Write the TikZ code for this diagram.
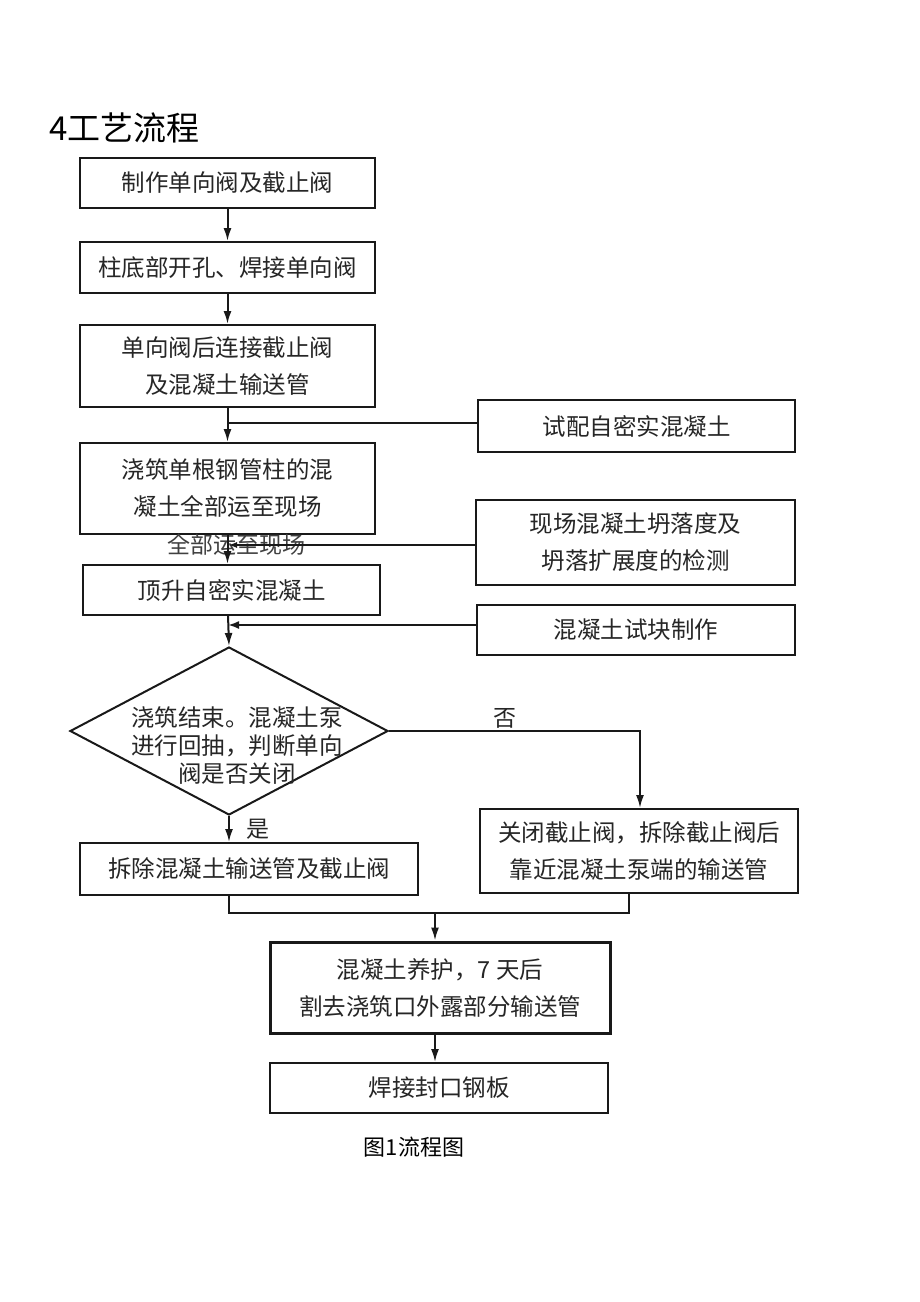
\documentclass[tikz,border=0pt]{standalone}
\usepackage{fontspec}
\setmainfont{Noto Sans CJK SC}
\usetikzlibrary{arrows.meta,shapes.geometric}
\tikzset{
  box/.style={draw=black!90, line width=2pt, inner sep=0pt, align=center,
    font=\fontsize{23.5}{37}\selectfont, text=black!85},
  thickbox/.style={box, line width=3pt},
  dec/.style={draw=black!90, line width=2pt, diamond, inner sep=0pt, align=center,
    font=\fontsize{23.5}{28}\selectfont, text=black!85},
  flow/.style={line width=2pt, draw=black!90},
  arr/.style={flow, -{Latex[length=13pt,width=8pt]}},
  lbl/.style={font=\fontsize{23}{23}\selectfont, text=black!85, inner sep=0pt}
}
\begin{document}
\begin{tikzpicture}[x=1pt,y=-1pt]
\useasboundingbox[fill=white] (0,0) rectangle (920,1302);

\node[lbl, font=\fontsize{33}{33}\selectfont, text=black, anchor=west] (title) at (49,128) {4工艺流程};

\node[box, minimum width=295pt, minimum height=50pt] (b1) at (227.5,183) {制作单向阀及截止阀};
\node[box, minimum width=295pt, minimum height=51pt] (b2) at (227.5,267.5) {柱底部开孔、焊接单向阀};
\node[box, minimum width=295pt, minimum height=82pt] (b3) at (227.5,366) {单向阀后连接截止阀\\及混凝土输送管};
\node[box, minimum width=317pt, minimum height=52pt] (s1) at (636.5,426) {试配自密实混凝土};
\node[box, minimum width=295pt, minimum height=91pt] (b4) at (227.5,488.5) {浇筑单根钢管柱的混\\凝土全部运至现场};
\node[box, minimum width=319pt, minimum height=85pt] (s2) at (635.5,542.5) {现场混凝土坍落度及\\坍落扩展度的检测};
\node[box, minimum width=297pt, minimum height=50pt] (b5) at (231.5,590) {顶升自密实混凝土};
\node[box, minimum width=318pt, minimum height=50pt] (s3) at (636,630) {混凝土试块制作};
\node[dec, minimum width=318pt, minimum height=168pt] (d) at (229,731) {};
\node[lbl, align=center, font=\fontsize{23.5}{28}\selectfont] (dt) at (237,746) {浇筑结束。混凝土泵\\进行回抽，判断单向\\阀是否关闭};
\node[box, minimum width=338pt, minimum height=52pt] (b6) at (249,869) {拆除混凝土输送管及截止阀};
\node[box, minimum width=318pt, minimum height=84pt] (b7) at (639,851) {关闭截止阀，拆除截止阀后\\靠近混凝土泵端的输送管};
\node[thickbox, minimum width=340pt, minimum height=91pt] (b8) at (440,987.5) {混凝土养护，7 天后\\割去浇筑口外露部分输送管};
\node[box, minimum width=338pt, minimum height=50pt] (b9) at (439,1088) {焊接封口钢板};

\node[lbl] (no) at (505,718) {否};
\node[lbl] (yes) at (258,829) {是};
\node[lbl, text=black!75] (stray) at (236,545) {全部运至现场};
\node[lbl, font=\fontsize{22}{22}\selectfont, text=black] (cap) at (414,1147) {图1流程图};

% main column
\draw[arr] (b1.south) -- (b1.south |- b2.north);
\draw[arr] (b2.south) -- (b2.south |- b3.north);

\coordinate (j1) at (228,423);
\draw[arr] (b3.south) -- (b3.south |- b4.north);
\draw[flow] (s1.west |- j1) -- (j1);

\coordinate (j2) at (228,545);
\draw[arr] (b4.south) -- (b4.south |- b5.north);
\draw[flow, -{Latex[length=9pt,width=6pt]}] (s2.west |- j2) -- (j2);

\coordinate (j3) at (228,625);
\coordinate (b5s) at (228,615);
\draw[arr] (b5s) -- (d.north);
\draw[flow, -{Latex[length=11pt,width=8pt]}] (s3.west |- j3) -- (j3);

\draw[arr] (d.south) -- (d.south |- b6.north);
\coordinate (rc) at (640,731);
\draw[arr] (d.east) -- (rc) -- (rc |- b7.north);

\coordinate (mL) at (229,913);
\coordinate (mR) at (629,913);
\coordinate (m) at (435,913);
\draw[flow] (mL |- b6.south) -- (mL) -- (mR) -- (mR |- b7.south);
\draw[arr] (m) -- (m |- b8.north);
\draw[arr] (b8.south -| m) -- (b9.north -| m);
\end{tikzpicture}
\end{document}
